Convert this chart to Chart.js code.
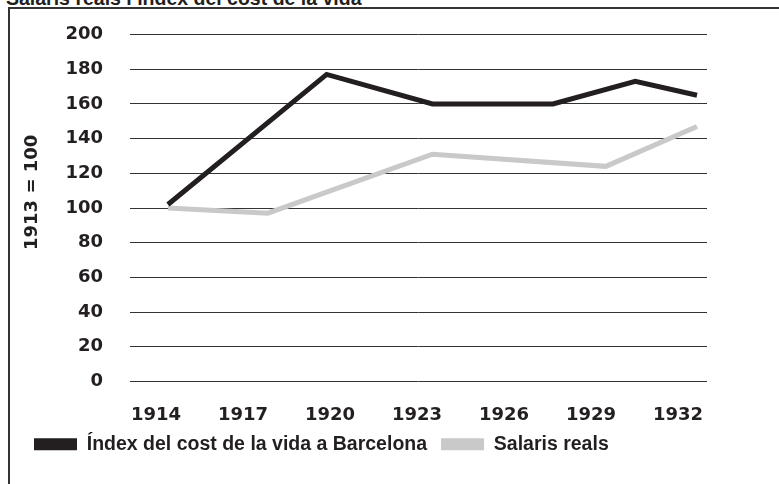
<!DOCTYPE html>
<html lang="ca">
<head>
    <meta charset="UTF-8">
    <title>Salaris reals i índex del cost de la vida</title>
    <style>
        html, body { margin: 0; padding: 0; background: #fff; overflow: hidden; }
        #wrap { position: relative; width: 779px; height: 484px; overflow: hidden; }
        #frame { position: absolute; left: 8px; top: 7px; width: 900px; height: 600px;
                 border-top: 2px solid #333; border-left: 2px solid #333; }
        #title { position: absolute; left: 6px; top: -13px; line-height: 20px; white-space: nowrap;
                 font: bold 19.5px "Liberation Sans", Arial, sans-serif; color: #231f20; }
        #chart { position: absolute; left: 0; top: 0; }
    </style>
</head>
<body>
    <div id="wrap">
        <div id="frame"></div>
        <div id="title">Salaris reals i índex del cost de la vida</div>
        <canvas id="chart" width="779" height="484"></canvas>
    </div>

    <script src="https://cdn.jsdelivr.net/npm/chart.js"></script>
    <script>
        // values (1913 = 100)
        const costYears = [1914, 1919.4, 1923, 1927.1, 1929.9, 1932];
        const costValues = [102, 177, 160, 160, 173, 165];
        const wageYears = [1914, 1917.4, 1923, 1928.9, 1932];
        const wageValues = [100, 97, 131, 124, 147];
        const yearTicks = [1914, 1917, 1920, 1923, 1926, 1929, 1932];
        const seriesNames = ['Índex del cost de la vida a Barcelona', 'Salaris reals'];

        const ink = '#231f20';
        const grey = '#c9c9c9';
        const tickFont = { family: 'DejaVu Sans', weight: 'bold', size: 18 };

        const toPoints = (xs, ys) => xs.map((x, i) => ({ x: x, y: ys[i] }));

        function drawChart() {
            const ctx = document.getElementById('chart').getContext('2d');
            new Chart(ctx, {
                type: 'line',
                data: {
                    datasets: [{
                        label: seriesNames[0],
                        data: toPoints(costYears, costValues),
                        borderColor: ink,
                        backgroundColor: ink,
                        borderWidth: 5,
                        pointRadius: 0,
                        borderJoinStyle: 'miter',
                        tension: 0
                    }, {
                        label: seriesNames[1],
                        data: toPoints(wageYears, wageValues),
                        borderColor: grey,
                        backgroundColor: grey,
                        borderWidth: 5,
                        pointRadius: 0,
                        borderJoinStyle: 'miter',
                        tension: 0
                    }]
                },
                options: {
                    responsive: false,
                    animation: false,
                    layout: { padding: { left: 20, right: 72, top: 34.5, bottom: 20 } },
                    scales: {
                        x: {
                            type: 'linear',
                            display: false,
                            min: 1912.71,
                            max: 1932.34
                        },
                        years: {
                            type: 'linear',
                            position: 'bottom',
                            min: 1913.1,
                            max: 1933.0,
                            grid: { display: false },
                            border: { display: false },
                            afterBuildTicks: axis => { axis.ticks = yearTicks.map(v => ({ value: v })); },
                            afterFit: axis => { axis.height = 39; },
                            ticks: {
                                autoSkip: false,
                                maxRotation: 0,
                                padding: 15.5,
                                color: ink,
                                font: tickFont,
                                callback: v => String(v)
                            }
                        },
                        y: {
                            min: 0,
                            max: 200,
                            border: { display: false },
                            grid: { color: '#333', lineWidth: 1, drawTicks: false },
                            afterFit: axis => {
                                axis.width = 110;
                                axis.paddingTop = 0;
                                axis.paddingBottom = 0;
                            },
                            ticks: { stepSize: 20, padding: 27, color: ink, font: tickFont },
                            title: {
                                display: true,
                                text: '     1913 = 100',
                                color: ink,
                                font: tickFont,
                                padding: { top: 2, bottom: 0 }
                            }
                        }
                    },
                    plugins: {
                        tooltip: { enabled: false },
                        legend: {
                            position: 'bottom',
                            align: 'start',
                            labels: {
                                boxWidth: 43,
                                boxHeight: 12,
                                padding: 14,
                                color: ink,
                                font: { family: 'Liberation Sans', weight: 'bold', size: 19.5 },
                                generateLabels: chart => Chart.defaults.plugins.legend.labels.generateLabels(chart)
                                    .map(item => Object.assign(item, { lineWidth: 0 }))
                            }
                        }
                    }
                }
            });
        }
        document.addEventListener('DOMContentLoaded', drawChart);
    </script>
</body>
</html>
